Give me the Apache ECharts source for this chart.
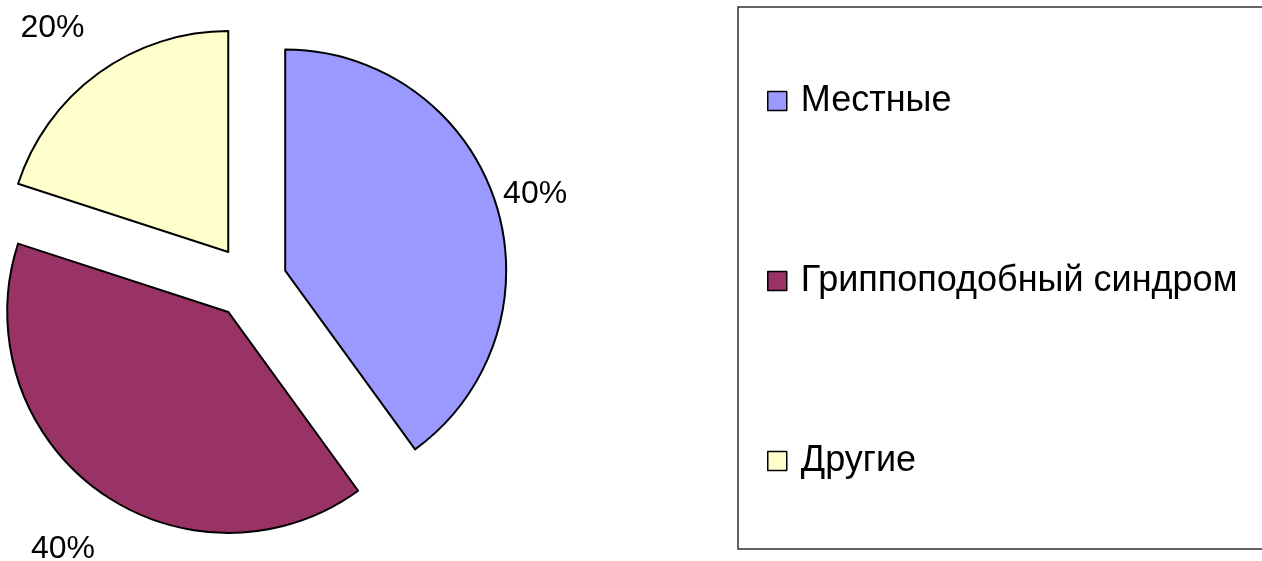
<!DOCTYPE html>
<html>
<head>
<meta charset="utf-8">
<script src="https://cdn.jsdelivr.net/npm/echarts@6/dist/echarts.min.js"></script>
<style>html,body{margin:0;padding:0;background:#fff;}#c{width:1262px;height:561px;}</style>
</head>
<body>
<div id="c"></div>
<script>
const categories = ['Местные', 'Гриппоподобный синдром', 'Другие'];
const values = [40, 40, 20];
const colors = ['#9999FF', '#993366', '#FFFFCC'];
const labelLineLength = [26, 72, 56];
const labelLineLength2 = [-22, -44, -24];

const chart = echarts.init(document.getElementById('c'), null, {renderer: 'canvas'});
const data = categories.map((name, i) => ({
  name: name,
  value: values[i],
  selected: true,
  itemStyle: {color: colors[i]},
  labelLine: {length: labelLineLength[i], length2: labelLineLength2[i]}
}));
chart.setOption({
  animation: false,
  backgroundColor: '#ffffff',
  legend: {
    orient: 'vertical',
    left: 738,
    top: 7,
    padding: [76, 600, 70, 29],
    borderColor: '#333',
    borderWidth: 1.5,
    itemWidth: 19,
    itemHeight: 19,
    itemGap: 144,
    icon: 'rect',
    selectedMode: false,
    itemStyle: {borderColor: '#000', borderWidth: 1.5},
    textStyle: {fontFamily: 'Liberation Sans', fontSize: 36, color: '#000', lineHeight: 36, padding: [0, 0, 0, 9]},
    data: categories
  },
  series: [{
    type: 'pie',
    center: [250, 282],
    radius: 221,
    startAngle: 90,
    clockwise: true,
    selectedMode: 'multiple',
    selectedOffset: 37,
    avoidLabelOverlap: false,
    itemStyle: {borderColor: '#000', borderWidth: 2},
    label: {show: true, position: 'outside', formatter: '{d}%', fontFamily: 'Liberation Sans', fontSize: 32, color: '#000'},
    labelLine: {show: false},
    emphasis: {disabled: true},
    data: data
  }]
});
</script>
</body>
</html>
